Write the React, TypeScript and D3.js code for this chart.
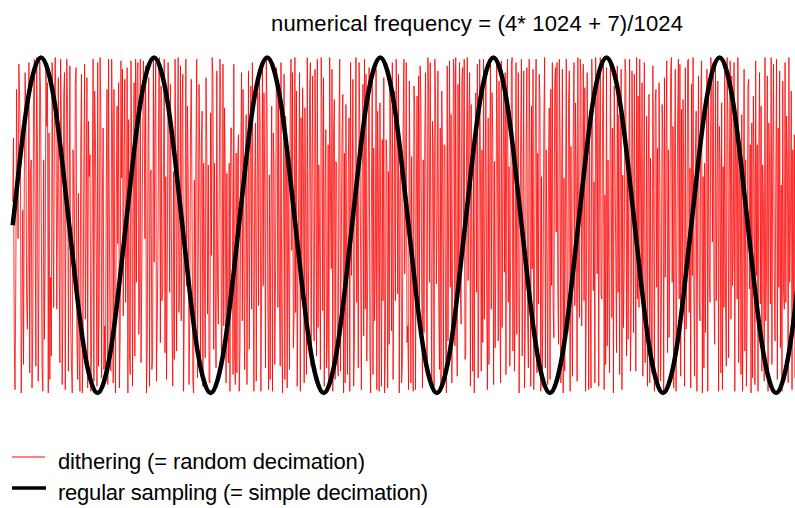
import * as d3 from "d3";

// dithered (random decimation) samples, in percent of full scale, one per sample index
const dither = [
  14, 52, -67, -98, -35, 81, 23, -8, 96, 73, 44, -100, -57, 9, -83, 26, 91, 71, -45, -62, -18, 97, -88, 32, 39, -97, -60, 76, 99, 3, -84, 100,
  47, -93, -21, 98, 79, 4, -86, -99, 39, -68, -26, 94, 59, 85, -100, 55, -92, -31, -78, 97, 12, -49, 74, 100, 65, -50, 17, 88, -21, -82, 99, 60,
  -95, -43, 77, 91, -98, 36, 99, 70, -87, 10, 95, -58, -83, -100, 45, 18, -27, 84, 94, -66, -92, 19, -79, -99, 48, 90, -100, -73, 33, 96, -56, -6,
  88, -97, 62, 29, 42, -99, -75, 31, 99, -93, 80, 53, -16, -96, 97, -84, -40, 100, 69, -91, 15, 58, -86, -60, -92, 24, 81, -95, 99, 3, -72, -87,
  99, 58, -94, 81, -37, -100, 20, 71, -11, 85, -97, -66, 98, 28, 93, -54, 39, 87, -46, -20, 94, -100, 63, -76, -89, 98, 41, -96, 17, 85, -78, 99,
  -34, 91, 97, -65, -51, 99, -82, -26, 41, 98, 69, -8, 95, -100, -74, 49, 88, -96, 30, 33, -86, -79, 99, -22, 63, 97, -93, -57, -7, 94, 100, -70,
  83, -45, -38, 38, 99, -76, 29, -92, -21, 97, 61, -40, 84, 13, -56, -96, 32, -80, 99, 38, -75, 28, 100, -52, -29, 95, -57, 67, 90, -99, -44, 14,
  99, -36, 71, 30, -95, -58, 59, 87, 5, -93, -100, 27, -64, 42, 99, -91, -19, 84, 38, -90, 48, 68, -96, 37, -25, -79, 88, 49, -53, 36, -93, -94,
  67, -18, 100, 89, -74, 37, -41, -85, 92, -38, -59, 9, 99, 81, -86, -47, 96, -60, 70, 28, -94, 31, -64, -82, 37, -99, 58, 58, 11, -89, 96, -77,
  -95, 43, -88, 40, 54, -99, -73, 40, 91, -57, 81, -24, -86, 38, 66, -95, -2, 92, -74, 30, 83, -50, 97, -32, -99, 27, 61, -93, 16, 79, -48, 89,
  62, -99, -35, 94, -36, 79, 20, -85, 100, 68, -46, -98, 30, -92, 7, 71, -99, 55, 37, -83, -27, 94, 88, -49, 76, -39, -84, 97, -60, -100, 13, 90,
  -92, 65, 48, -97, 38, -33, -86, 77, 99, -15, 91, -73, -55, 100, -52, 80, -96, -27, 23, 91, -99, 64, -44, 82, 38, -94, 70, 5, -89, 100, -57, -25,
  78, 97, -84, 30, 89, -59, -69, 93, 39, -78, 99, -61, 36, -12, -86, 100, 74, -51, 88, -96, 20, 57, -85, -67, 48, -94, 100, 22, -26, 93, -99, 56,
  75, -92, 38, 36, -81, -90, 59, 99, -87, -14, 55, 78, -100, 43, -94, 72, -38, -89, 34, 64, -99, 97, -30, 9, 87, -96, -71, 41, 100, -46, 29, -85,
  97, 60, -19, -98, 33, 84, -66, 99, -50, 90, -81, -39, 40, 94, -75, -100, 17, 86, -89, 46, -57, -28, 93, -98, 68, 25, -99, 73, -8, -96, 51, -45,
  88, -100, -79, 51, 35, -97, 32, -71, 88, 39, -63, 97, -92, -22, 80, -45, 99, 67, -41, 90, -100, 26, 35, -94, -83, 58, 99, -29, 13, 97, -70, -60,
  -98, 86, 25, -94, 41, -47, -99, 83, 69, -98, 10, 77, -40, 89, -55, 95, 74, -37, -97, 39, -64, 53, 91, -31, -88, 100, 79, -34, 97, -18, -93, 62,
  42, -96, 99, 73, -35, 6, 92, -46, -86, 58, -99, 80, 37, -89, 48, 47, -77, -100, 95, -69, 24, 98, -37, 66, -94, -30, 99, 90, -72, 100, -53, -90,
  84, -27, 97, -38, -59, 88, 94, -15, 99, -80, -76, 45, 100, -33, 63, 91, -96, 72, -21, -87, 39, -100, 54, 79, -40, 96, -91, -33, 99, 34, -87, 45,
  -70, 99, -56, 7, 92, -43, -98, 64, -83, 33, 97, -50, 79, 52, -95, 38, -73, -19, 100, 47, -69, 86, -40, -94, 98, -61, 29, 85, -28, 91, -89, 76,
  99, -46, 35, -84, -20, 96, 100, -75, 48, -87, -38, 97, -65, 31, 91, -100, -33, 54, 99, -78, 11, 92, -97, -62, 38, 94, -57, -85, 99, 39, -96, 71,
  -26, 93, -98, -31, 63, 99, -88, 43, -47, 90, 74, -99, 29, -96, -36, 60, 100, -85, 45, -16, -95, 38, 70, -92, 81, -36, 97, -49, -67, 82, 94, -4,
  97, -38, -71, 99, 52, -94, 30, 93, -100, 28, -87, 14, 99, -46, -64, 76, 92, -99, 47, -34, -90, 58, 97, -48, 73, 23, -93, 100, -30, -55, 99, 89,
  -60, 12, 96, -45, 82, -99, -41, 91, 34, -98, 68, -35, -97, 99, 70, -39, 26, -94, 100, 61, -29, 86, -96, 50, 100, -41, -44, 73, 97, -98, 18, -83,
  94, -72, 39, -32, -88, 97, 45, -55, 58, -100, 83, 37, -17, -76, 95, -40, 66, -89, 42, 93, -98, 30, -61, -24, 99, 91, -78, 36, -68, 43, 99, -87,
  -53, 92, 38, -64, 90, -8, -87, 100, -44, 77, -49, 99, 36, -38, 85, -90, 19, 97, -82, -39, 65, -96, 31, 78, -94, 40, -58, -88, 95, 20, -99, 73,
  81, -37, 46, -98, 85, 27, -93, -49, 72, 50, -100, 88, -31, 39, 98, -76, 45, -67, -3, 91, 100, -34, 59, -97, 34, 93, -99, -21, 62, 99, -44, 96,
  -90, 69, -39, 75, 23, -96, 94, -62, -27, 98, 99, -52, 34, -97, 84, -30, 100, -41, -90, 43, 68, -99, 16, 89, -46, -57, 74, 98, -100, 29, -85, 37,
  -64, 37, 93, -99, 79, -31, -46, 100, 82, -10, 97, -38, -71, 98, -45, 22, 86, -99, 59, 35, -88, 73, -98, 35, -49, 93, -47, -84, 100, 63, -79, 32,
  98, -56, 89, -36, -17, 97, -99, 68, 40, -44, 100, -82, 27, 37, -89, 66, -99, -13, 93, -75, 39, -96, -51, 83, 87, -38, 48, -100, 61, -91, 77, 30,
  -95, 98, -30, 48, -99, 44, 91, -47, 71, -87, 36, 15, -93, 100, -57, -28, 89, -99, 61, 33, -47, 100, -83, 42, 96, -29, -69, 25, 99, -92, 58, -37,
  92, -73, 24, -99, 86, -39, -50, 97, -46, 65, 38, -94, 100, -34, 2, 80, -98, 45, -63, 54, -91, 99, -26, -98, 69, -35, 94, -100, 37, -45, -97, 11,
];

// regular sampling curve read at 16 points per cycle, 7 cycles over the record
const regular = [
  0, 38, 71, 92, 100, 92, 71, 38, 0, -38, -71, -92, -100, -92, -71, -38,
  0, 38, 71, 92, 100, 92, 71, 38, 0, -38, -71, -92, -100, -92, -71, -38,
  0, 38, 71, 92, 100, 92, 71, 38, 0, -38, -71, -92, -100, -92, -71, -38,
  0, 38, 71, 92, 100, 92, 71, 38, 0, -38, -71, -92, -100, -92, -71, -38,
  0, 38, 71, 92, 100, 92, 71, 38, 0, -38, -71, -92, -100, -92, -71, -38,
  0, 38, 71, 92, 100, 92, 71, 38, 0, -38, -71, -92, -100, -92, -71, -38,
  0, 38, 71, 92, 100, 92, 71, 38, 0, -38, -71, -92, -100, -92, -71, -38,
  0,
];

const nSamples = 1024;
const title = "numerical frequency = (4* 1024 + 7)/1024";
const legendLabels = ["dithering (= random decimation)", "regular sampling (= simple decimation)"];

const width = 795;
const height = 508;
const font = "'Liberation Sans', Arial, sans-serif";

export default function App() {
  const x = d3.scaleLinear().domain([0, nSamples]).range([12.7, 804.4]);
  const y = d3.scaleLinear().domain([-100, 100]).range([393, 57.5]);

  const ditherStep = nSamples / dither.length;
  const redLine = d3
    .line<number>()
    .x((_, i) => x(i * ditherStep))
    .y((d) => y(d));

  const step = nSamples / (regular.length - 1);
  const blackLine = d3
    .line<number>()
    .x((_, i) => x(i * step))
    .y((d) => y(d))
    .curve(d3.curveNatural);

  return (
    <svg
      width={width}
      height={height}
      style={{ position: "absolute", left: 0, top: 0, background: "#fff" }}
    >
      <text x={271} y={31} fontFamily={font} fontSize={22} textLength={412} lengthAdjust="spacing">
        {title}
      </text>
      <path d={redLine(dither) ?? ""} fill="none" stroke="#ff0000" strokeWidth={0.8} />
      <path
        d={blackLine(regular) ?? ""}
        fill="none"
        stroke="#000"
        strokeWidth={4.5}
        strokeLinejoin="round"
      />
      <line x1={12} x2={45} y1={457} y2={457} stroke="#ff0000" strokeWidth={1} />
      <text x={58} y={469} fontFamily={font} fontSize={22} textLength={307} lengthAdjust="spacing">
        {legendLabels[0]}
      </text>
      <line x1={12} x2={46} y1={488} y2={488} stroke="#000" strokeWidth={3.5} />
      <text x={58} y={500} fontFamily={font} fontSize={22} textLength={370} lengthAdjust="spacing">
        {legendLabels[1]}
      </text>
    </svg>
  );
}
